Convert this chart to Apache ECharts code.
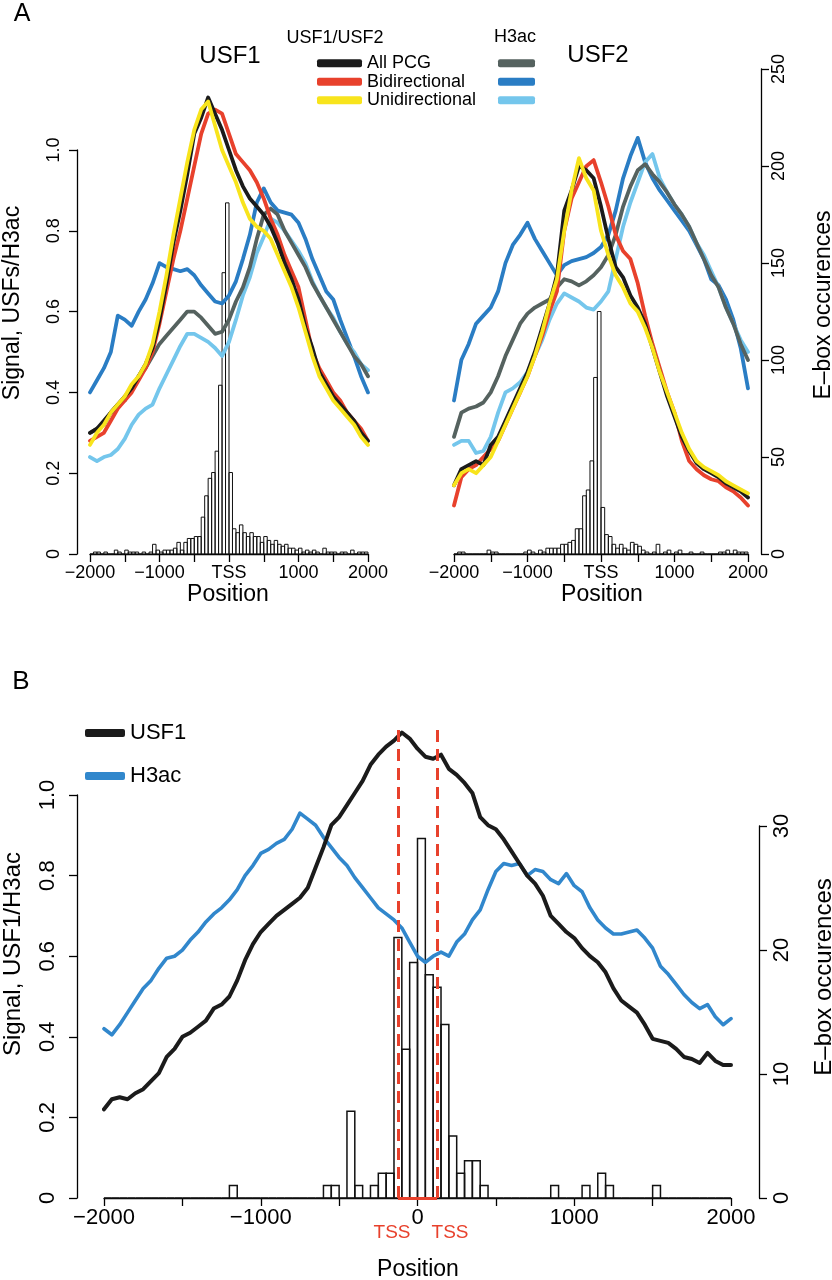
<!DOCTYPE html>
<html><head><meta charset="utf-8">
<script src="https://cdn.jsdelivr.net/npm/echarts@6/dist/echarts.min.js"></script>
<style>html,body{margin:0;padding:0;background:#fff}#c{width:832px;height:1280px}</style>
</head><body><div id="c"></div>
<script>
// ---------------- DATA ----------------
// Panel A: signal sampled every 100 bp from -2000 to 2000
const posStartA = -2000, posStepA = 100;
const usf1All = [0.30,0.31,0.33,0.35,0.37,0.39,0.41,0.44,0.47,0.51,0.58,0.67,0.77,0.85,0.94,1.04,1.08,1.13,1.09,1.05,1.00,0.95,0.91,0.88,0.86,0.84,0.81,0.77,0.72,0.68,0.63,0.56,0.51,0.45,0.42,0.39,0.37,0.35,0.33,0.30,0.28];
const usf1Bi  = [0.28,0.29,0.30,0.33,0.36,0.38,0.40,0.43,0.46,0.50,0.57,0.65,0.73,0.80,0.88,0.96,1.04,1.09,1.10,1.09,1.04,0.99,0.97,0.95,0.92,0.88,0.83,0.79,0.74,0.70,0.66,0.58,0.50,0.46,0.43,0.40,0.38,0.35,0.33,0.31,0.28];
const usf1Uni = [0.27,0.30,0.32,0.35,0.37,0.39,0.42,0.44,0.47,0.52,0.60,0.69,0.79,0.88,0.97,1.05,1.10,1.12,1.06,1.00,0.96,0.92,0.87,0.83,0.81,0.80,0.78,0.74,0.70,0.66,0.61,0.55,0.49,0.44,0.41,0.38,0.36,0.34,0.32,0.29,0.27];
const h3u1All = [0.30,0.31,0.32,0.35,0.37,0.38,0.41,0.44,0.46,0.49,0.52,0.54,0.56,0.58,0.60,0.60,0.585,0.565,0.545,0.55,0.58,0.625,0.66,0.71,0.78,0.84,0.855,0.84,0.80,0.77,0.74,0.71,0.67,0.64,0.61,0.58,0.55,0.52,0.49,0.47,0.44];
const h3u1Bi  = [0.40,0.43,0.46,0.50,0.59,0.58,0.565,0.60,0.63,0.67,0.72,0.71,0.705,0.70,0.705,0.69,0.665,0.645,0.625,0.62,0.64,0.675,0.73,0.79,0.87,0.905,0.87,0.85,0.845,0.84,0.82,0.78,0.73,0.69,0.65,0.63,0.58,0.535,0.49,0.44,0.40];
const h3u1Uni = [0.24,0.23,0.24,0.245,0.26,0.285,0.32,0.345,0.36,0.37,0.41,0.445,0.48,0.515,0.545,0.545,0.535,0.525,0.51,0.49,0.525,0.58,0.64,0.685,0.745,0.785,0.83,0.82,0.80,0.775,0.75,0.72,0.675,0.64,0.61,0.585,0.55,0.52,0.50,0.47,0.455];
const usf2All = [0.17,0.21,0.22,0.23,0.22,0.27,0.29,0.33,0.37,0.41,0.45,0.50,0.56,0.62,0.69,0.85,0.90,0.96,0.95,0.93,0.86,0.78,0.71,0.685,0.64,0.61,0.57,0.51,0.45,0.39,0.34,0.29,0.255,0.225,0.21,0.20,0.19,0.175,0.165,0.155,0.14];
const usf2Bi  = [0.12,0.19,0.21,0.22,0.24,0.26,0.28,0.32,0.36,0.40,0.44,0.49,0.54,0.60,0.65,0.80,0.88,0.92,0.96,0.975,0.92,0.86,0.79,0.75,0.73,0.67,0.59,0.52,0.46,0.40,0.35,0.28,0.23,0.21,0.195,0.185,0.18,0.165,0.155,0.14,0.12];
const usf2Uni = [0.17,0.20,0.21,0.20,0.22,0.24,0.28,0.32,0.36,0.40,0.44,0.49,0.55,0.62,0.68,0.80,0.90,0.98,0.93,0.90,0.80,0.74,0.69,0.66,0.62,0.60,0.56,0.51,0.45,0.40,0.35,0.30,0.26,0.23,0.215,0.205,0.195,0.18,0.17,0.16,0.15];
const h3u2All = [0.29,0.35,0.36,0.365,0.375,0.40,0.44,0.49,0.53,0.57,0.595,0.61,0.62,0.63,0.66,0.68,0.675,0.665,0.675,0.69,0.71,0.74,0.79,0.86,0.91,0.95,0.965,0.94,0.92,0.895,0.865,0.84,0.81,0.77,0.73,0.69,0.66,0.61,0.57,0.52,0.48];
const h3u2Bi  = [0.38,0.48,0.52,0.57,0.59,0.61,0.65,0.72,0.765,0.79,0.82,0.78,0.75,0.72,0.69,0.715,0.725,0.73,0.735,0.745,0.76,0.79,0.85,0.93,0.985,1.03,0.97,0.93,0.90,0.875,0.85,0.825,0.80,0.765,0.73,0.68,0.665,0.63,0.58,0.51,0.41];
const h3u2Uni = [0.27,0.28,0.28,0.25,0.255,0.29,0.35,0.40,0.41,0.425,0.45,0.49,0.53,0.58,0.62,0.645,0.635,0.625,0.61,0.605,0.625,0.65,0.73,0.81,0.87,0.92,0.97,0.99,0.93,0.895,0.865,0.84,0.81,0.77,0.74,0.70,0.66,0.61,0.57,0.53,0.50];

// E-box histograms, 50 bp bins from -2000
const binStart = -2000, binWidth = 50;
const eboxUsf1 = [
 0,1,1,0,1,0,0,2,1,0,
 2,1,1,1,0,1,0,1,5,2,
 1,2,2,2,3,6,2,6,8,8,
 9,9,19,30,39,42,53,87,145,181,
 42,13,11,15,11,9,11,9,9,6,
 9,7,5,7,5,4,5,3,3,2,
 3,1,2,1,2,1,0,3,1,1,
 1,0,1,1,0,2,0,1,1,1];
const eboxUsf2 = [
 0,1,1,0,0,0,0,0,0,2,
 1,1,0,0,0,0,0,0,0,1,
 2,1,0,2,1,3,3,3,3,5,
 5,6,7,13,13,30,33,48,91,125,
 24,10,9,5,3,5,3,2,6,5,
 4,2,1,0,1,5,0,1,2,0,
 1,2,0,0,1,0,0,1,0,0,
 0,0,1,1,2,0,2,1,1,1];

// Panel B: signal sampled every 50 bp
const posStartB = -2000, posStepB = 50;
const usf1B = [0.22,0.245,0.25,0.245,0.26,0.27,0.29,0.31,0.35,0.37,
 0.40,0.41,0.425,0.44,0.47,0.48,0.50,0.54,0.59,0.63,
 0.66,0.68,0.70,0.715,0.73,0.745,0.77,0.82,0.87,0.925,
 0.945,0.975,1.005,1.035,1.075,1.10,1.12,1.135,1.155,1.14,
 1.115,1.095,1.09,1.10,1.065,1.05,1.03,1.005,0.945,0.925,
 0.915,0.89,0.86,0.83,0.80,0.78,0.75,0.70,0.68,0.66,
 0.645,0.62,0.60,0.585,0.56,0.52,0.49,0.475,0.46,0.43,
 0.395,0.39,0.385,0.37,0.35,0.345,0.335,0.36,0.34,0.33,0.33];
const h3B = [0.42,0.405,0.43,0.46,0.49,0.52,0.54,0.57,0.595,0.60,
 0.615,0.64,0.66,0.685,0.705,0.72,0.74,0.765,0.80,0.825,
 0.855,0.865,0.88,0.89,0.915,0.955,0.94,0.925,0.895,0.87,
 0.845,0.825,0.795,0.77,0.745,0.72,0.705,0.69,0.67,0.635,
 0.60,0.585,0.60,0.61,0.60,0.635,0.655,0.69,0.715,0.765,
 0.81,0.83,0.825,0.83,0.80,0.815,0.81,0.79,0.78,0.805,
 0.775,0.76,0.72,0.69,0.67,0.655,0.655,0.66,0.665,0.645,
 0.62,0.575,0.555,0.53,0.505,0.485,0.47,0.48,0.45,0.43,0.445];
const eboxB = [
 0,0,0,0,0,0,0,0,0,0,
 0,0,0,0,0,0,1,0,0,0,
 0,0,0,0,0,0,0,0,1,1,
 0,7,1,0,1,2,2,21,12,19,
 29,18,17,14,5,2,3,3,1,0,
 0,0,0,0,0,0,0,1,0,0,
 0,1,0,2,1,0,0,0,0,0,
 1,0,0,0,0,0,0,0,0,0];
const tssB = [-125, 125];

// ---------------- STYLE / LAYOUT ----------------
const FONT = '"Liberation Sans", Arial, Helvetica, sans-serif';
const C = { black:'#1b1b1b', red:'#e8412c', yellow:'#f8e41c', gray:'#55625f', blue:'#2a7dc4', light:'#74c6ec', blueB:'#3187cc', tss:'#e8412c' };
const sigMaxA = (554 - 69) / 404;      // signal axis range of panel A plot area
const sigMaxB = (1198 - 727) / 403;    // signal axis range of panel B plot area
const eboxMaxB = (1198 - 727) / 12.4;  // E-box axis range of panel B plot area

function pts(start, step, vals) { return vals.map((v, i) => [start + i * step, v]); }
function bins(counts) { return counts.map((c, i) => [binStart + i * binWidth, binStart + (i + 1) * binWidth, c]); }
const minus = v => (v < 0 ? '\u2212' + Math.abs(v) : String(v));

function histSeries(counts, xi, yi, lw) {
  return {
    type: 'custom', xAxisIndex: xi, yAxisIndex: yi, data: bins(counts),
    encode: { x: [0, 1], y: 2 }, silent: true, z: 1,
    renderItem: function (params, api) {
      const a = api.coord([api.value(0), 0]);
      const b = api.coord([api.value(1), api.value(2)]);
      return { type: 'rect', shape: { x: a[0], y: b[1], width: b[0] - a[0], height: a[1] - b[1] },
               style: { fill: 'transparent', stroke: '#111', lineWidth: lw } };
    }
  };
}
function lineSeries(name, xi, yi, start, step, vals, color, w) {
  return { type: 'line', name: name, xAxisIndex: xi, yAxisIndex: yi, data: pts(start, step, vals),
           showSymbol: false, symbol: 'none', color: color, z: 3, silent: true,
           lineStyle: { color: color, width: w || 3.8, cap: 'round', join: 'round' } };
}

const tickStyle = { show: true, length: 8, lineStyle: { color: '#000', width: 1.3 } };
const lineAx = { show: true, onZero: false, lineStyle: { color: '#000', width: 1.3 } };
function xVis(grid, fs, fmt, margin) {
  return { type: 'value', gridIndex: grid, min: -2000, max: 2000, interval: 500,
           axisLine: lineAx, axisTick: tickStyle, splitLine: { show: false },
           axisLabel: { show: true, fontSize: fs, fontFamily: FONT, color: '#000', margin: margin, formatter: fmt, hideOverlap: false } };
}
function xHid(grid) { return { type: 'value', gridIndex: grid, min: -2000, max: 2000, show: false }; }
function yHid(grid, max, pos) { return { type: 'value', gridIndex: grid, min: 0, max: max, show: false, position: pos }; }
function yVis(grid, max, interval, pos, offset, fs, margin, fmt) {
  return { type: 'value', gridIndex: grid, min: 0, max: max, interval: interval, position: pos, offset: offset,
           axisLine: lineAx, axisTick: tickStyle, splitLine: { show: false },
           axisLabel: { show: true, rotate: 90, fontSize: fs, fontFamily: FONT, color: '#000', margin: margin, formatter: fmt } };
}
const fmtA = v => (v === 0 ? 'TSS' : (v % 1000 === 0 ? minus(v) : ''));
const fmtB = v => (v % 1000 === 0 ? minus(v) : '');
const fmtSig = v => (v === 0 ? '0' : v.toFixed(1));

function txt(text, x, y, size, opts) {
  opts = opts || {};
  return { type: 'text', x: x, y: y, rotation: opts.rot || 0, silent: true,
           style: { text: text, x: 0, y: 0, font: size + 'px ' + FONT, fill: opts.color || '#000',
                    align: 'center', verticalAlign: 'middle', textAlign: 'center', textVerticalAlign: 'middle' } };
}
const R90 = Math.PI / 2;

const option = {
  animation: false,
  backgroundColor: '#fff',
  grid: [
    { left: 90, right: 464, top: 69, bottom: 726, outerBoundsMode: 'none' },   // 0 A-left data
    { left: 90, right: 464, top: 150, bottom: 726, outerBoundsMode: 'none' },  // 1 A-left visible signal axis
    { left: 454, right: 84, top: 69, bottom: 726, outerBoundsMode: 'none' },   // 2 A-right data
    { left: 104, right: 101, top: 727, bottom: 82, outerBoundsMode: 'none' },  // 3 B data
    { left: 104, right: 101, top: 795, bottom: 82, outerBoundsMode: 'none' },  // 4 B signal axis
    { left: 104, right: 101, top: 826, bottom: 82, outerBoundsMode: 'none' }   // 5 B e-box axis
  ],
  xAxis: [ xVis(0, 18, fmtA, 10), xHid(1), xVis(2, 18, fmtA, 10), xVis(3, 22, fmtB, 9), xHid(4), xHid(5) ],
  yAxis: [
    yHid(0, sigMaxA, 'left'),                                  // 0
    yHid(0, 250, 'right'),                                     // 1
    yVis(1, 1, 0.2, 'left', 13, 18, 14, fmtSig),               // 2
    yHid(2, sigMaxA, 'left'),                                  // 3
    yVis(2, 250, 50, 'right', 13, 18, 9, v => String(v)),      // 4
    yHid(3, sigMaxB, 'left'),                                  // 5
    yHid(3, eboxMaxB, 'right'),                                // 6
    yVis(4, 1, 0.2, 'left', 27, 22, 18, fmtSig),               // 7
    yVis(5, 30, 10, 'right', 28, 22, 12, v => String(v))       // 8
  ],
  legend: [
    { data: ['All PCG', 'Bidirectional', 'Unidirectional'], left: 317, top: 54, orient: 'vertical', padding: 0,
      itemWidth: 45, itemHeight: 8, itemGap: 0, icon: 'roundRect', selectedMode: false,
      textStyle: { fontSize: 18, lineHeight: 18.5, fontFamily: FONT, color: '#000' } },
    { data: ['H3ac All PCG', 'H3ac Bidirectional', 'H3ac Unidirectional'], left: 498, top: 54, orient: 'vertical', padding: 0,
      itemWidth: 37, itemHeight: 8, itemGap: 0, icon: 'roundRect', selectedMode: false, formatter: () => ' ',
      textStyle: { fontSize: 18, lineHeight: 18.5, fontFamily: FONT, color: '#000' } },
    { data: ['USF1', 'H3ac'], left: 85, top: 722, orient: 'vertical', padding: 0,
      itemWidth: 40, itemHeight: 8, itemGap: 21, icon: 'roundRect', selectedMode: false,
      textStyle: { fontSize: 22, lineHeight: 22, fontFamily: FONT, color: '#000' } }
  ],
  series: [
    // Panel A left (USF1)
    histSeries(eboxUsf1, 0, 1, 1),
    lineSeries('H3ac Bidirectional', 0, 0, posStartA, posStepA, h3u1Bi, C.blue),
    lineSeries('H3ac Unidirectional', 0, 0, posStartA, posStepA, h3u1Uni, C.light),
    lineSeries('H3ac All PCG', 0, 0, posStartA, posStepA, h3u1All, C.gray),
    lineSeries('Bidirectional', 0, 0, posStartA, posStepA, usf1Bi, C.red),
    lineSeries('All PCG', 0, 0, posStartA, posStepA, usf1All, C.black),
    lineSeries('Unidirectional', 0, 0, posStartA, posStepA, usf1Uni, C.yellow),
    // Panel A right (USF2)
    histSeries(eboxUsf2, 2, 4, 1),
    lineSeries('H3ac Bidirectional', 2, 3, posStartA, posStepA, h3u2Bi, C.blue),
    lineSeries('H3ac Unidirectional', 2, 3, posStartA, posStepA, h3u2Uni, C.light),
    lineSeries('H3ac All PCG', 2, 3, posStartA, posStepA, h3u2All, C.gray),
    lineSeries('Bidirectional', 2, 3, posStartA, posStepA, usf2Bi, C.red),
    lineSeries('All PCG', 2, 3, posStartA, posStepA, usf2All, C.black),
    lineSeries('Unidirectional', 2, 3, posStartA, posStepA, usf2Uni, C.yellow),
    // Panel B
    histSeries(eboxB, 3, 6, 1.5),
    lineSeries('H3ac', 3, 5, posStartB, posStepB, h3B, C.blueB, 3.6),
    Object.assign(lineSeries('USF1', 3, 5, posStartB, posStepB, usf1B, C.black, 4), {
      markLine: {
        silent: true, symbol: ['none', 'none'], animation: false, label: { show: false }, z: 5,
        lineStyle: { color: C.tss, type: [12, 7], width: 3 },
        data: [
          { xAxis: tssB[0] }, { xAxis: tssB[1] },
          [ { coord: [tssB[0], 0], lineStyle: { type: 'solid', width: 3, color: C.tss } }, { coord: [tssB[1], 0] } ]
        ]
      }
    })
  ],
  graphic: { elements: [
    txt('A', 22, 14, 25),
    txt('USF1', 230, 56, 24),
    txt('USF2', 598, 55, 24),
    txt('USF1/USF2', 335, 38, 18),
    txt('H3ac', 515, 37, 18),
    txt('Signal, USFs/H3ac', 13, 303, 23, { rot: R90 }),
    txt('E\u2013box occurences', 824, 305, 23, { rot: R90 }),
    txt('Position', 228, 595, 23),
    txt('Position', 602, 595, 23),
    txt('B', 21, 682, 26),
    txt('Signal, USF1/H3ac', 13, 954, 24, { rot: R90 }),
    txt('E\u2013box occurences', 824, 977, 24, { rot: R90 }),
    txt('Position', 418, 1270, 23),
    txt('TSS', 392, 1233, 19, { color: C.tss }),
    txt('TSS', 450, 1233, 19, { color: C.tss })
  ] }
};

const chart = echarts.init(document.getElementById('c'), null, { renderer: 'canvas', width: 832, height: 1280 });
chart.setOption(option);
</script></body></html>
